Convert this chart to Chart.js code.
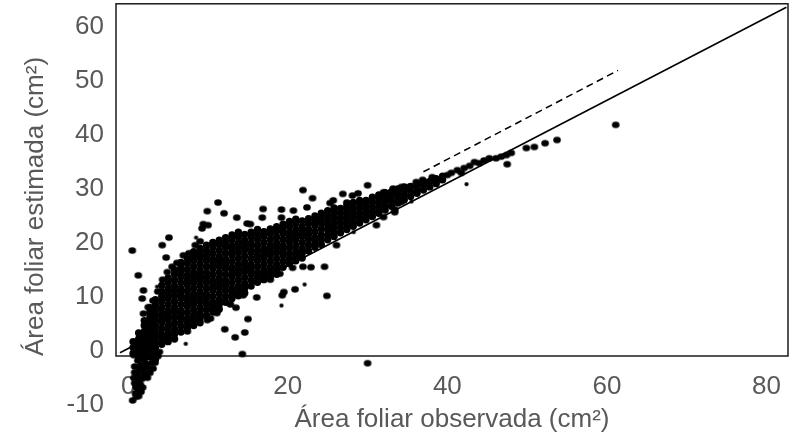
<!DOCTYPE html>
<html><head><meta charset="utf-8">
<script src="https://cdn.jsdelivr.net/npm/chart.js@4/dist/chart.umd.min.js"></script>
<style>html,body{margin:0;padding:0;background:#fff}canvas{display:block}</style>
</head><body>
<canvas id="c" width="792" height="444"></canvas>
<script>
const xTicks=[0,20,40,60,80];
const yTicks=[-10,0,10,20,30,40,50,60];
const xTitle='Área foliar observada (cm²)';
const yTitle='Área foliar estimada (cm²)';
const xRange=[-1.54,82.7];
const yRange=[-0.96,64.35];
const fitLine=[[-1.04,-0.35],[82.5,63.7]];
const dashLine=[[37.0,33.2],[61.4,52.0]];

const coreColumns=[
[0.6,[-0.5,0.6,1.7]],
[1.3,[-1.0,0.1,1.1,2.2,3.3]],
[2.0,[-1.6,-0.6,0.5,1.5,2.6,3.6,4.7,5.6]],
[2.7,[-1.1,0.1,1.1,2.1,3.1,4.1,5.1,6.1,7.1,8.0]],
[3.4,[-1.6,-0.6,0.6,1.6,2.6,3.6,4.6,5.6,6.6,7.6,8.6,9.5]],
[4.2,[1.2,2.1,3.0,4.1,5.2,6.1,7.0,8.1,9.2,10.1,11.0,12.1]],
[5.0,[1.7,2.6,3.5,4.6,5.7,6.6,7.5,8.6,9.7,10.6,11.5,12.6,13.5]],
[5.8,[2.2,3.1,4.0,5.1,6.2,7.1,8.0,9.1,10.2,11.1,12.0,13.1,14.2,15.0]],
[6.6,[3.5,4.6,5.7,6.6,7.5,8.6,9.7,10.6,11.5,12.6,13.7,14.6,15.5,16.4]],
[7.4,[4.2,5.1,6.0,7.1,8.2,9.1,10.0,11.1,12.2,13.1,14.0,15.1,16.2,17.1]],
[8.2,[4.7,5.6,6.5,7.6,8.7,9.6,10.5,11.6,12.7,13.6,14.5,15.6,16.7,17.6,18.4]],
[9.0,[5.2,6.1,7.0,8.1,9.2,10.1,11.0,12.1,13.2,14.1,15.0,16.1,17.2,18.1,19.0]],
[9.8,[6.5,7.6,8.7,9.6,10.5,11.6,12.7,13.6,14.5,15.6,16.7,17.6,18.5,19.6]],
[10.6,[7.2,8.1,9.0,10.1,11.2,12.1,13.0,14.1,15.2,16.1,17.0,18.1,19.2,20.1]],
[11.4,[7.7,8.6,9.5,10.6,11.7,12.6,13.5,14.6,15.7,16.6,17.5,18.6,19.7,20.5]],
[12.2,[9.0,10.1,11.2,12.1,13.0,14.1,15.2,16.1,17.0,18.1,19.2,20.1,21.0]],
[13.0,[9.7,10.6,11.5,12.6,13.7,14.6,15.5,16.6,17.7,18.6,19.5,20.6,21.5]],
[13.8,[10.2,11.1,12.0,13.1,14.2,15.1,16.0,17.1,18.2,19.1,20.0,21.1,22.0]],
[14.6,[10.7,11.6,12.5,13.6,14.7,15.6,16.5,17.6,18.7,19.6,20.5,21.6]],
[15.4,[12.0,13.1,14.2,15.1,16.0,17.1,18.2,19.1,20.0,21.1,22.0]],
[16.2,[12.7,13.6,14.5,15.6,16.7,17.6,18.5,19.6,20.7,21.6,22.5]],
[17.0,[13.2,14.1,15.0,16.1,17.2,18.1,19.0,20.1,21.2,22.1]],
[17.8,[13.7,14.6,15.5,16.6,17.7,18.6,19.5,20.6,21.7,22.6]],
[18.6,[14.2,15.1,16.0,17.1,18.2,19.1,20.0,21.1,22.2,23.0]],
[19.4,[15.5,16.6,17.7,18.6,19.5,20.6,21.7,22.6,23.5]],
[20.2,[16.2,17.1,18.0,19.1,20.2,21.1,22.0,23.1,24.0]],
[21.0,[16.7,17.6,18.5,19.6,20.7,21.6,22.5,23.6,24.4]],
[21.8,[17.2,18.1,19.0,20.1,21.2,22.1,23.0,24.1]],
[22.6,[18.5,19.6,20.7,21.6,22.5,23.6,24.5]],
[23.4,[19.2,20.1,21.0,22.1,23.2,24.1,25.0]],
[24.2,[19.7,20.6,21.5,22.6,23.7,24.6,25.5]],
[25.0,[20.6,21.5,22.4,23.3,24.2,25.1,26.0]],
[25.8,[21.2,22.1,23.0,23.9,24.8,25.7,26.5]],
[26.6,[21.9,22.8,23.7,24.6,25.5,26.4]],
[27.4,[22.5,23.4,24.3,25.2,26.1,27.0]],
[28.2,[23.1,24.0,24.9,25.8,26.7,27.5]],
[29.0,[23.7,24.6,25.5,26.4,27.3,27.9]],
[29.8,[24.3,25.2,26.1,27.0,27.9]],
[30.6,[24.9,25.8,26.7,27.6,28.5]],
[31.4,[25.5,26.4,27.3,28.2,28.9]],
[32.2,[26.1,27.0,27.9,28.8,29.3]],
[33.0,[26.8,27.7,28.6,29.5]],
[33.8,[27.4,28.3,29.2,30.0]],
[34.6,[28.0,28.9,29.8,30.4]],
[35.4,[28.6,29.5,30.5]],
[36.2,[29.2,30.1,31.0]],
[37.0,[29.8,30.7,31.4]],
[37.8,[30.4,31.4]],
[38.6,[31.0,31.9]],
[39.4,[31.7,32.4]]
];

const tailPoints=[[0.55,-9.2],[1.0,-8.5],[0.9,-7.9],[1.3,-7.4],[1.0,-6.8],[1.5,-6.2],[1.2,-5.6],[1.7,-5.2],[1.4,-4.8],[1.1,-4.2],[2.1,-4.6],[1.9,-3.9],[1.4,-3.4],[2.7,-4.1],[2.4,-3.2],[2.2,-2.4],[1.6,-2.6],[2.9,-2.3],[3.35,-2.2],[3.0,-1.3],[3.7,-1.0],[3.9,-0.2],[1.2,-1.8],[0.7,-0.8],
[0.8,-2.9],[0.7,-5.0],[1.8,-6.8],[0.8,-6.0],[2.4,-5.0],[3.1,-3.3],[2.6,-1.0],[1.9,-3.0],[0.8,-4.0],[1.6,-7.6],[1.3,-8.4]];

const edgePoints=[[0.5,18.6],[1.25,14.0],[1.9,11.2],[1.75,9.7],[4.25,19.6],[4.75,17.3],[5.1,21.0],
[1.9,6.9],[2.5,8.1],[3.1,9.3],[3.7,11.0],[4.3,13.2],[4.9,14.6],[5.5,15.6],[6.1,16.3],[6.9,17.7],[7.6,18.1],[8.4,19.6],[9.0,20.3],
[9.25,22.7],[9.4,23.5],[10.0,23.3],[9.9,25.9],[11.25,27.5],[12.0,25.5],[13.6,24.7],[14.9,23.6],[15.3,23.5],
[16.9,26.3],[16.8,24.7],[19.2,26.2],[19.2,24.7],[20.7,26.0],[21.9,29.8],[22.4,26.6],[23.1,28.3],[25.3,27.4],[25.7,27.9],
[26.9,29.1],[27.4,27.5],[28.1,28.8],[28.8,29.2],[30.0,30.7],[32.0,29.4],[33.2,30.1],
[9.9,5.7],[12.1,4.0],[13.4,2.5],[14.6,3.4],[15.0,5.9],[13.5,8.0],[14.3,-0.6],[16.1,9.9],[19.3,10.3],[19.5,10.9],[20.9,11.4],
[24.9,10.2],[21.9,15.6],[22.9,15.5],[24.6,15.6],[26.1,19.6],[30.0,-2.3],[31.1,23.3],[32.0,24.8],[33.4,25.7],
[7.4,3.6],[10.3,6.0],[11.1,7.0],[12.8,8.6],[14.4,10.3],[17.8,13.2],[19.0,14.3],[20.6,15.4]];

const bandPoints=[[33.1,29.4],[34.25,30.4],[35.25,30.4],[36.1,31.3],[36.9,31.7],[38.1,32.2],[39.0,31.7],[40.0,32.6],[40.5,33.0],[41.25,33.5],[41.75,33.0],[42.1,33.9],[42.8,34.3],[43.4,35.0],[44.0,34.8],[44.6,35.3],[45.25,35.7],[46.1,35.7],[46.75,36.0],[47.4,36.3],[48.0,36.7],[47.5,34.6],[49.9,37.6],[50.9,37.8],[52.25,38.5],[53.75,39.1],[61.1,41.9],[33.4,26.2],[34.25,27.6],[32.75,28.5]];

const smallPoints=[[3.6,11.9],[7.2,1.3],[8.5,21.0],[19.2,8.4],[22.1,12.3],[28.25,22.0],[26.75,22.0],[35.5,27.7],[42.4,30.9],[34.0,27.4]];

const FONT="'Liberation Sans', Arial, Helvetica, sans-serif";
const TXT='#595959';
const FS=26;
const toPts=a=>a.map(([x,y])=>({x,y}));
const corePts=coreColumns.flatMap(([x,ys])=>ys.map(y=>({x,y})));
const loosePts=[...toPts(tailPoints),...toPts(edgePoints),...toPts(bandPoints)];

function dotImage(rx,ry){
  const c=document.createElement('canvas');
  c.width=Math.ceil(rx*2)+2;c.height=Math.ceil(ry*2)+2;
  const g=c.getContext('2d');
  g.fillStyle='#000';g.beginPath();g.ellipse(c.width/2,c.height/2,rx,ry,0,0,Math.PI*2);g.fill();
  return c;
}
const bigDot=dotImage(3.8,3.2);
const smallDot=dotImage(2.2,2.0);

const boxPlugin={id:'box',
  beforeDatasetsDraw(chart){
    const {ctx,chartArea:a}=chart;
    ctx.save();ctx.strokeStyle='#1a1a1a';ctx.lineWidth=1.5;
    ctx.strokeRect(a.left,a.top,a.right-a.left,a.bottom-a.top);ctx.restore();
    chart.$saved={left:a.left,top:a.top,right:a.right,bottom:a.bottom};
    a.left=0;a.top=0;a.right=chart.width;a.bottom=chart.height;
  },
  afterDatasetsDraw(chart){Object.assign(chart.chartArea,chart.$saved);}
};

const dotSet=(data,extra)=>Object.assign({data,pointHoverRadius:3.7,backgroundColor:'#000',borderColor:'#000',pointBorderWidth:0,order:0,clip:false},extra);

new Chart(document.getElementById('c'),{
 type:'scatter',
 data:{datasets:[
  dotSet(corePts,{pointStyle:'circle',pointRadius:3.7}),
  dotSet(loosePts,{pointStyle:bigDot,pointRadius:3.8}),
  dotSet(toPts(smallPoints),{pointStyle:smallDot,pointRadius:2.2}),
  {data:toPts(fitLine),showLine:true,pointRadius:0,borderColor:'#000',borderWidth:1.6,order:2},
  {data:toPts(dashLine),showLine:true,pointRadius:0,borderColor:'#000',borderWidth:1.5,borderDash:[7,4.5],order:2}
 ]},
 options:{
  responsive:false,animation:false,events:[],
  layout:{padding:{top:3,right:4,left:0,bottom:0}},
  plugins:{legend:{display:false},tooltip:{enabled:false}},
  scales:{
   x:{type:'linear',min:xRange[0],max:xRange[1],
      afterBuildTicks:s=>{s.ticks=xTicks.map(v=>({value:v}));},
      afterFit:s=>{s.height=88;s.paddingLeft=0;s.paddingRight=0;},
      grid:{display:false,drawTicks:false},border:{display:false},
      ticks:{font:{family:FONT,size:FS},color:TXT,padding:15,autoSkip:false,maxRotation:0},
      title:{display:true,text:xTitle,font:{family:FONT,size:FS},color:TXT,padding:{top:0,bottom:9}}},
   y:{type:'linear',min:yRange[0],max:yRange[1],
      afterBuildTicks:s=>{s.ticks=yTicks.map(v=>({value:v}));},
      afterFit:s=>{s.width=116;s.paddingTop=0;s.paddingBottom=0;},
      grid:{display:false,drawTicks:false},border:{display:false},
      ticks:{font:{family:FONT,size:FS},color:TXT,padding:12,autoSkip:false},
      title:{display:true,text:yTitle,align:'start',font:{family:FONT,size:FS},color:TXT,padding:{top:20,bottom:0}}}
  }
 },
 plugins:[boxPlugin]
});
</script>
</body></html>
